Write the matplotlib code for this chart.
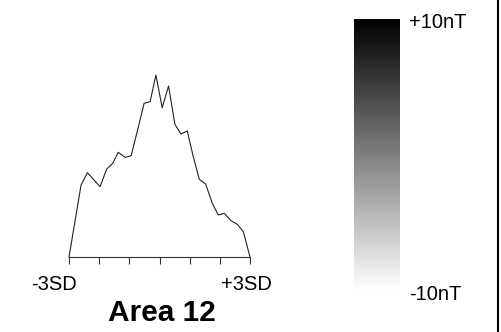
import numpy as np
import matplotlib
matplotlib.use("Agg")
import matplotlib.pyplot as plt

plt.rcParams["font.family"] = ["Liberation Sans", "DejaVu Sans"]

# distribuição (x em desvios-padrão, y em unidades relativas)
sd_pos = [-3.0, -2.6, -2.39, -1.97, -1.75, -1.55, -1.37, -1.14, -0.94, -0.74,
          -0.51, -0.31, -0.12, 0.09, 0.30, 0.51, 0.71, 0.92, 1.12, 1.32,
          1.53, 1.75, 1.95, 2.15, 2.37, 2.58, 2.78, 3.0]
altura = [0, 72, 84.3, 70.3, 88, 93.7, 104.7, 99.7, 101.3, 125.3,
          153.7, 155.3, 182, 149.3, 171, 132.7, 123, 126, 100.3, 77.7,
          73, 53.7, 42, 43.7, 36.3, 32.7, 25.3, 0]
ticks_sd = [-3, -2, -1, 0, 1, 2, 3]
escala_min, escala_max = -10, 10

W, H = 502, 332
fig = plt.figure(figsize=(W / 100, H / 100), dpi=100)

# curva
ax = fig.add_axes([69 / W, 1 - 257 / H, 181 / W, 182 / H])
ax.plot(sd_pos, altura, color="#222222", lw=0.8, clip_on=False)
ax.set_xlim(-3, 3)
ax.set_ylim(0, 182)
for s in ["top", "right", "left"]:
    ax.spines[s].set_visible(False)
ax.spines["bottom"].set_color("#333333")
ax.spines["bottom"].set_linewidth(0.8)
ax.set_yticks([])
ax.set_xticks(ticks_sd)
ax.set_xticklabels([])
ax.tick_params(axis="x", direction="out", length=5, width=0.8, color="#333333")

fig.text(54 / W, 1 - 285 / H, "-3SD", ha="center", va="center", fontsize=14.5)
fig.text(246 / W, 1 - 285 / H, "+3SD", ha="center", va="center", fontsize=14.5)
fig.text(162 / W, 1 - 313 / H, "Area 12", ha="center", va="center",
         fontsize=21.5, fontweight="bold")

# escala de cinza
cax = fig.add_axes([354 / W, 1 - 290 / H, 46 / W, 271 / H])
grad = np.linspace(escala_max, escala_min, 256).reshape(-1, 1)
cax.imshow(grad, cmap="gray_r", aspect="auto", vmin=escala_min, vmax=escala_max)
cax.axis("off")
fig.text(409 / W, 1 - 23 / H, "+10nT", ha="left", va="center", fontsize=14.5)
fig.text(409 / W, 1 - 295 / H, "-10nT", ha="left", va="center", fontsize=14.5)

# borda direita
fig.add_artist(plt.Line2D([498.5 / W, 498.5 / W], [0, 1], color="black", lw=1.5))

fig.savefig("out.png", dpi=100)
